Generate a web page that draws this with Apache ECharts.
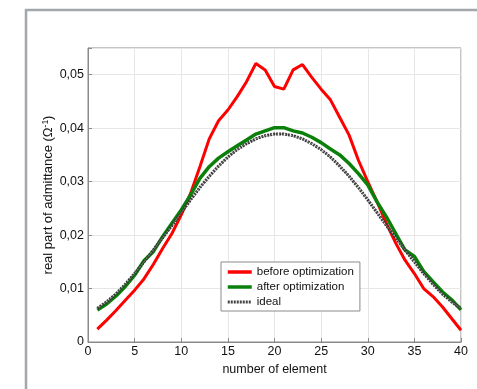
<!DOCTYPE html>
<html><head><meta charset="utf-8">
<script src="https://cdn.jsdelivr.net/npm/echarts@6/dist/echarts.min.js"></script>
<style>html,body{margin:0;padding:0;background:#fff}#c{width:477px;height:389px}</style>
</head><body><div id="c"></div>
<script>
const elements = [1,2,3,4,5,6,7,8,9,10,11,12,13,14,15,16,17,18,19,20,21,22,23,24,25,26,27,28,29,30,31,32,33,34,35,36,37,38,39,40];
const beforeOpt = [0.0024,0.0041,0.0059,0.0078,0.0097,0.0118,0.0145,0.0175,0.0203,0.0238,0.0278,0.0328,0.0380,0.0414,0.0434,0.0459,0.0487,0.0521,0.0509,0.0478,0.0473,0.0509,0.0519,0.0495,0.0473,0.0453,0.0420,0.0387,0.0340,0.0300,0.0262,0.0222,0.0185,0.0153,0.0128,0.0100,0.0085,0.0066,0.0044,0.0022];
const afterOpt = [0.0060,0.0071,0.0086,0.0104,0.0125,0.0152,0.0169,0.0197,0.0222,0.0247,0.0275,0.0306,0.0328,0.0344,0.0356,0.0367,0.0378,0.0389,0.0395,0.0401,0.0401,0.0395,0.0391,0.0383,0.0373,0.0361,0.0350,0.0334,0.0315,0.0294,0.0262,0.0234,0.0203,0.0172,0.0160,0.0132,0.0113,0.0094,0.0079,0.0060];
const ideal = [0.0063,0.0075,0.0090,0.0108,0.0128,0.0150,0.0172,0.0195,0.0218,0.0242,0.0266,0.0289,0.0310,0.0329,0.0346,0.0360,0.0371,0.0380,0.0386,0.0389,0.0389,0.0386,0.0380,0.0371,0.0360,0.0346,0.0329,0.0310,0.0289,0.0266,0.0242,0.0218,0.0195,0.0172,0.0150,0.0128,0.0108,0.0090,0.0075,0.0063];
const xTicks = [0,5,10,15,20,25,30,35,40];
const yTicks = [0,0.01,0.02,0.03,0.04,0.05];
const seriesNames = ['before optimization','after optimization','ideal'];

const pairs = arr => elements.map((x,i)=>[x,arr[i]]);
const font = 'Liberation Sans, Arial, sans-serif';
const chart = echarts.init(document.getElementById('c'));
chart.setOption({
  animation:false,
  backgroundColor:'#fff',
  graphic:[{type:'rect',shape:{x:26,y:10,width:470,height:400},style:{fill:'none',stroke:'#a3a7ab',lineWidth:2.5},z:-1}],
  grid:{left:88,top:48,right:16,bottom:47,show:true,borderColor:'#8a8a8a',borderWidth:1,backgroundColor:'#fff'},
  legend:{data:[
      {name:seriesNames[0],lineStyle:{color:'#ff0000',width:3.5}},
      {name:seriesNames[1],lineStyle:{color:'#0a800a',width:3.5}},
      {name:seriesNames[2],lineStyle:{color:'#444',width:3,type:[2,1]}}],
    orient:'vertical',left:221,top:262,backgroundColor:'#fff',borderColor:'#8a8a8a',borderWidth:1,
    padding:[4,6,3,5],itemGap:3,itemWidth:24,itemHeight:10,itemStyle:{opacity:0},
    textStyle:{fontFamily:font,fontSize:11.5,color:'#111'}},
  xAxis:{type:'value',min:0,max:40,interval:5,
    name:'number of element',nameLocation:'middle',nameGap:20,
    nameTextStyle:{fontFamily:font,fontSize:12.5,color:'#111'},
    axisLine:{lineStyle:{color:'#8a8a8a'}},axisTick:{inside:true,length:4,lineStyle:{color:'#8a8a8a'}},
    axisLabel:{fontFamily:font,fontSize:12.5,color:'#111',margin:3,formatter:v=>xTicks.includes(v)?String(v):''},
    splitLine:{show:true,lineStyle:{color:'#e6e6e6',width:1}}},
  yAxis:{type:'value',min:0,max:0.055,interval:0.01,
    name:'{a|real part of admittance (Ω}{s|-1}{a|)}',nameLocation:'middle',nameGap:32,nameRotate:90,nameMoveOverlap:false,
    nameTextStyle:{rich:{a:{fontFamily:font,fontSize:13,color:'#111'},s:{fontFamily:font,fontSize:8.5,color:'#111',padding:[0,0,6,0]}}},
    axisLine:{show:true,lineStyle:{color:'#8a8a8a'}},axisTick:{show:true,inside:true,length:4,lineStyle:{color:'#8a8a8a'}},
    axisLabel:{fontFamily:font,fontSize:12.5,color:'#111',margin:4,
      formatter:v=>{const t=yTicks.find(k=>Math.abs(k-v)<1e-9);if(t===undefined)return '';return t===0?'0':t.toFixed(2).replace('.',',');}},
    splitLine:{show:true,lineStyle:{color:'#e6e6e6',width:1}}},
  series:[
    {name:seriesNames[0],type:'line',data:pairs(beforeOpt),symbol:'none',lineStyle:{color:'#ff0000',width:3},itemStyle:{color:'#ff0000'},z:3},
    {name:seriesNames[1],type:'line',data:pairs(afterOpt),symbol:'none',lineStyle:{color:'#0a800a',width:3.5},itemStyle:{color:'#0a800a'},z:4},
    {name:seriesNames[2],type:'line',data:pairs(ideal),symbol:'none',lineStyle:{color:'#333',width:3,type:[2,1]},itemStyle:{color:'#333'},z:5},
    {name:'ideal_overlay',type:'line',data:pairs(ideal),symbol:'none',lineStyle:{color:'#999',width:1,type:[1,1]},z:6,silent:true}
  ]
});
</script></body></html>
